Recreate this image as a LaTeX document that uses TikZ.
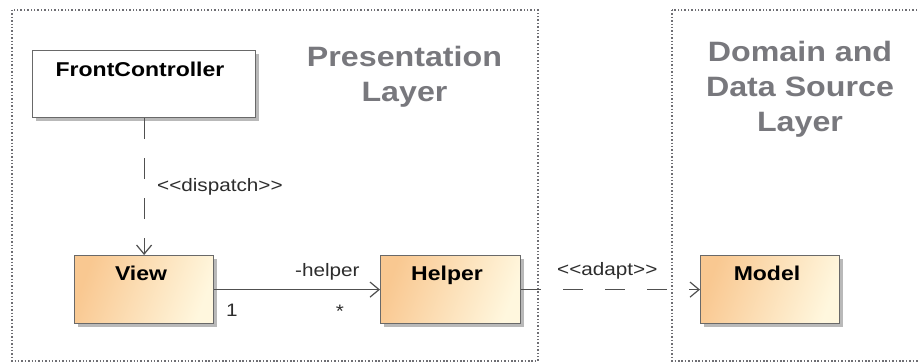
\documentclass[tikz,border=0pt]{standalone}
\usepackage{fontspec}
\setmainfont[FakeStretch=1.15, Ligatures=TeXOff]{Liberation Sans}
\usetikzlibrary{arrows.meta,shadows}
\definecolor{framegray}{RGB}{110,110,115}
\definecolor{titlegray}{RGB}{120,120,125}
\definecolor{boxorange}{RGB}{249,200,145}
\definecolor{boxcream}{RGB}{255,247,222}
\definecolor{edgegray}{RGB}{105,105,105}
\definecolor{linegray}{RGB}{80,80,80}
\definecolor{labelgray}{RGB}{45,45,45}
\begin{document}
\begin{tikzpicture}[x=1pt,y=-1pt,
  frame/.style={draw=framegray, line width=2pt, dash pattern=on 1.5pt off 1.9pt},
  layertitle/.style={text=titlegray, font=\fontsize{28}{35}\selectfont\bfseries, anchor=base, inner sep=0pt},
  clsbox/.style={draw=edgegray, line width=1.2pt, anchor=north west, inner sep=0pt,
    drop shadow={shadow xshift=3pt, shadow yshift=-3pt, fill=black!50, opacity=0.55}},
  orangebox/.style={clsbox, left color=boxorange, right color=boxcream, shading angle=70},
  whitebox/.style={clsbox, fill=white},
  clsname/.style={font=\fontsize{20}{24}\selectfont\bfseries, anchor=base, inner sep=0pt, text=black},
  small/.style={font=\fontsize{18}{22}\selectfont, text=labelgray, inner sep=0pt},
  tip/.style={-{Straight Barb[length=9pt,width=15pt,line width=1.2pt]}},
  conn/.style={draw=linegray, line width=1.2pt, tip},
  depline/.style={conn, dash pattern=on 21pt off 19pt},
]
\useasboundingbox (0,0) rectangle (919,363);
\fill[white] (0,0) rectangle (919,363);

% layer frames
\draw[frame] (12,10) rectangle (538,361);
\draw[frame] (672,10) rectangle (945,361);

% layer titles
\node[layertitle] (pres1) at (404.5,67) {Presentation};
\node[layertitle] (pres2) at (404.5,102) {Layer};
\node[layertitle] (dom1) at (800,62) {Domain and};
\node[layertitle] (dom2) at (800,97) {Data Source};
\node[layertitle] (dom3) at (800,132) {Layer};

% classes
\node[whitebox, minimum width=223pt, minimum height=67pt] (fc) at (32,50) {};
\node[clsname] (fct) at (140,77) {FrontController};
\node[orangebox, minimum width=139pt, minimum height=68pt] (view) at (74,255) {};
\node[clsname] (viewt) at (141,281) {View};
\node[orangebox, minimum width=140pt, minimum height=68pt] (helper) at (380,255) {};
\node[clsname] (helpert) at (447,281) {Helper};
\node[orangebox, minimum width=139pt, minimum height=68pt] (model) at (700,255) {};
\node[clsname] (modelt) at (767,281) {Model};

% connectors
\draw[depline] (fc.south) -- (view.north);
\node[small, anchor=base west] (displ) at (157,192) {<<dispatch>>};

\draw[conn] (view.east) -- (helper.west);
\node[small, anchor=base west] (helperl) at (295,277) {-helper};
\node[small, anchor=base west] (mult1) at (226,317) {1};
\node[small, anchor=base] (multn) at (340,318) {*};

\draw[conn, dash pattern=on 20pt off 22pt] (helper.east) -- (model.west);
\node[small, anchor=base west] (adaptl) at (557,276) {<<adapt>>};
\end{tikzpicture}
\end{document}
